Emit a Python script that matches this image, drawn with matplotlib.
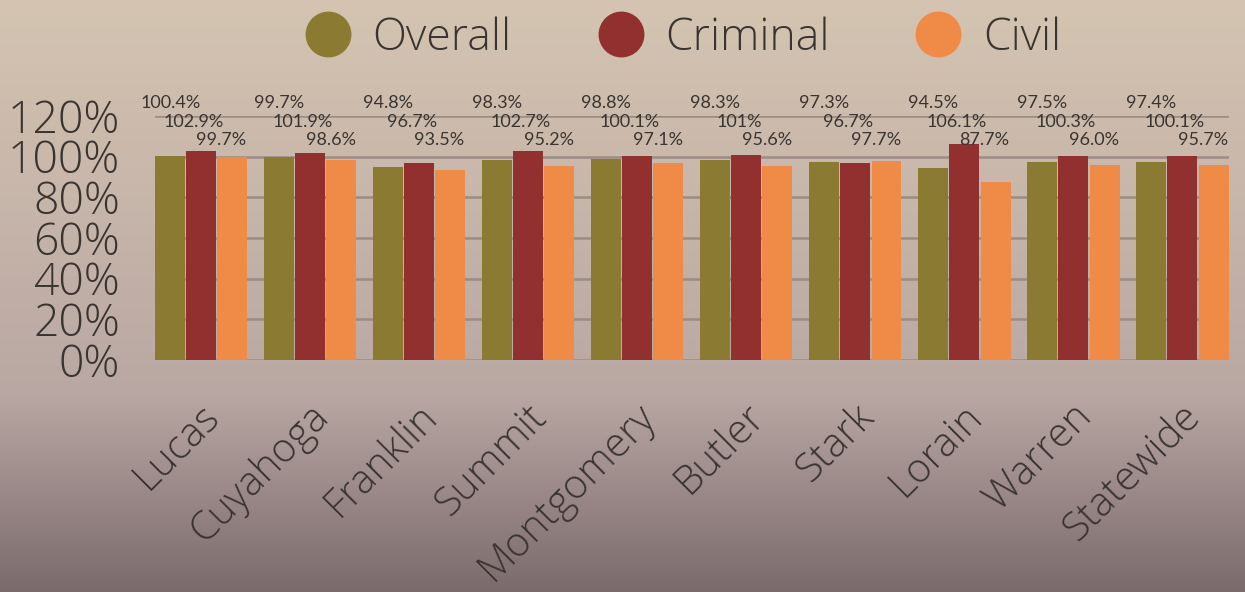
import numpy as np
import matplotlib
matplotlib.use("Agg")
import matplotlib.pyplot as plt
from matplotlib.colors import LinearSegmentedColormap
from matplotlib.lines import Line2D
from matplotlib.transforms import ScaledTranslation

# Datos del gráfico
condados = ["Lucas", "Cuyahoga", "Franklin", "Summit", "Montgomery",
            "Butler", "Stark", "Lorain", "Warren", "Statewide"]
overall = [100.4, 99.7, 94.8, 98.3, 98.8, 98.3, 97.3, 94.5, 97.5, 97.4]
criminal = [102.9, 101.9, 96.7, 102.7, 100.1, 101, 96.7, 106.1, 100.3, 100.1]
civil = [99.7, 98.6, 93.5, 95.2, 97.1, 95.6, 97.7, 87.7, 96.0, 95.7]
series = ["Overall", "Criminal", "Civil"]
yticks = [0, 20, 40, 60, 80, 100, 120]

colores = ["#8b7b32", "#922f2f", "#ef8a47"]
texto = "#3a3431"
fuente = "Lato"
fuente_grande = "Open Sans"

fig = plt.figure(figsize=(12.45, 5.92), dpi=100)

# Fondo degradado
bg = fig.add_axes([0, 0, 1, 1], zorder=-1)
cmap = LinearSegmentedColormap.from_list("fondo", ["#d4c4b1", "#c7b6aa", "#b9a7a3", "#7c6b6d"])
bg.imshow(np.linspace(0, 1, 256).reshape(-1, 1), aspect="auto", cmap=cmap,
          extent=[0, 1, 0, 1])
bg.axis("off")

ax = fig.add_axes([0.1245, 0.392, 0.8625, 0.412])
ax.patch.set_alpha(0)

x = np.arange(len(condados))
w = 0.275
off = 0.285
valores = [overall, criminal, civil]
for k, vals in enumerate(valores):
    ax.bar(x + (k - 1) * off, vals, w, color=colores[k], zorder=3)

# Etiquetas de valores en tres filas
filas_y = [126.6, 117.2, 108.4]
desp = [0.0, -0.07, -0.10]
for k, vals in enumerate(valores):
    for i, v in enumerate(vals):
        s = f"{v:.1f}%" if k == 2 else f"{v:g}%"
        ax.text(x[i] + (k - 1) * off + desp[k], filas_y[k], s, ha="center",
                va="center", fontsize=13, color=texto, family=fuente,
                clip_on=False, zorder=4)

ax.set_xlim(-0.425, 9.425)
ax.set_ylim(0, 120)
ax.set_yticks(yticks)
ax.set_yticklabels([f"{t}%" for t in yticks], fontsize=32, color=texto,
                   family=fuente_grande, fontweight="light")
ax.tick_params(axis="y", length=0, pad=25)
ax.yaxis.grid(True, color="#9b8c84", linewidth=1.8, zorder=0)
for s in ax.spines.values():
    s.set_visible(False)

ax.set_xticks(x)
ax.set_xticklabels(condados, rotation=45, ha="right", va="top",
                   rotation_mode="anchor", fontsize=29, color=texto,
                   family=fuente_grande, fontweight="light")
ax.tick_params(axis="x", length=0, pad=26)
for lab in ax.get_xticklabels():
    lab.set_transform(lab.get_transform() + ScaledTranslation(-0.02, 0, fig.dpi_scale_trans))

# Leyenda
handles = [Line2D([], [], marker="o", linestyle="", markersize=32,
                  markerfacecolor=c, markeredgecolor=c) for c in colores]
fig.legend(handles, series, loc="upper center", bbox_to_anchor=(0.54, 1.04),
           ncol=3, frameon=False, handletextpad=0.0, columnspacing=1.45,
           prop={"family": fuente_grande, "size": 32, "weight": "light"},
           labelcolor=texto)

fig.savefig("out.png", dpi=100)
